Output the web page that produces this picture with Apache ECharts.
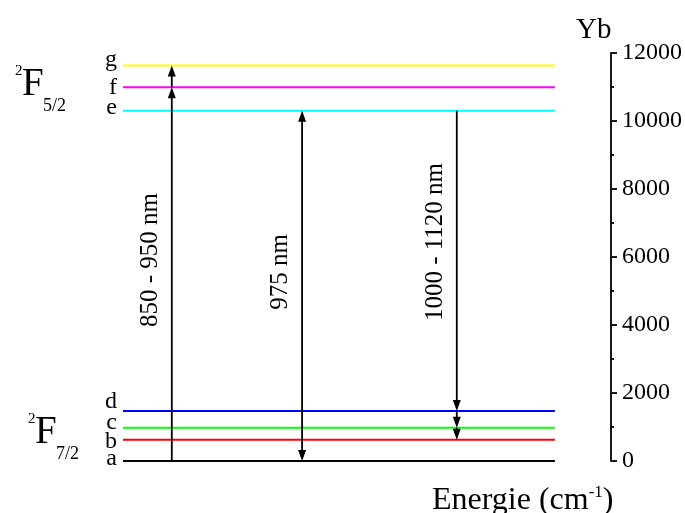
<!DOCTYPE html>
<html><head><meta charset="utf-8">
<script src="https://cdn.jsdelivr.net/npm/echarts@6/dist/echarts.min.js"></script>
<style>html,body{margin:0;padding:0;background:#fff}#c{width:685px;height:513px}</style>
</head><body><div id="c"></div>
<script>
// Energy levels of Yb (cm^-1)
const levelNames = ['a','b','c','d','e','f','g'];
const levelValues = [0, 626, 980, 1470, 10300, 10990, 11630];
const levelColors = ['#000000','#ff0000','#00ff00','#0000ff','#00ffff','#ff00ff','#ffff00'];
const levelLabelShift = [-2, 2, -5, -9, -3, 0, -6];
const levelXStart = 0, levelXEnd = 88.5;
// transitions: [arrow index, from level index, to level index, both ends arrow]
const arrowX = [10, 36.7, 68.4];
const transitionSegments = [
  [0, 0, 5, 0], [0, 5, 6, 0],
  [1, 0, 4, 1],
  [2, 4, 3, 0], [2, 3, 2, 0], [2, 2, 1, 0]
];
const arrowLabels = ['850 - 950 nm', '975 nm', '1000 - 1120 nm'];
const yTicks = [0, 2000, 4000, 6000, 8000, 10000, 12000];

const chart = echarts.init(document.getElementById('c'), null, {renderer: 'canvas'});
const FONT = 'Liberation Serif';

const series = levelNames.map((n, i) => ({
  type: 'line', name: n, silent: true, symbol: 'none', animation: false,
  lineStyle: {color: levelColors[i], width: 2},
  data: [[levelXStart, levelValues[i]], [levelXEnd, levelValues[i]]]
}));

series.push({
  type: 'scatter', silent: true, symbolSize: 0, animation: false,
  itemStyle: {opacity: 1},
  data: levelNames.map((n, i) => ({
    value: [levelXStart, levelValues[i]], name: n,
    label: {show: true, position: 'left', distance: 6, offset: [0, levelLabelShift[i]],
            formatter: n, color: '#000', fontFamily: FONT, fontSize: 24, opacity: 1}
  }))
});

function head(tip, dir) {
  // dir: +1 pointing down (increasing pixel y), -1 pointing up
  const L = 11, W = 4;
  return {type: 'polygon', shape: {points: [
    [tip[0], tip[1]], [tip[0] - W, tip[1] - dir * L], [tip[0] + W, tip[1] - dir * L]
  ]}, style: {fill: '#000'}};
}

series.push({
  type: 'custom', animation: false, silent: true, z: 5,
  data: transitionSegments.map(s => [arrowX[s[0]], levelValues[s[1]], levelValues[s[2]], s[3]]),
  renderItem: function (params, api) {
    const p1 = api.coord([api.value(0), api.value(1)]);
    const p2 = api.coord([api.value(0), api.value(2)]);
    const dir = p2[1] > p1[1] ? 1 : -1;
    const children = [
      {type: 'line', shape: {x1: p1[0], y1: p1[1], x2: p2[0], y2: p2[1] - dir * 4},
       style: {stroke: '#000', lineWidth: 1.8}},
      head(p2, dir)
    ];
    if (api.value(3)) {
      children[0].shape.y1 = p1[1] + dir * 4;
      children.push(head(p1, -dir));
    }
    return {type: 'group', children: children};
  }
});

function termText(x0, yc, sub) {
  return [
    {type: 'text', x: x0, y: yc - 14, style: {text: '2', fontFamily: FONT, fontSize: 15, fill: '#000', verticalAlign: 'middle'}},
    {type: 'text', x: x0 + 7, y: yc, style: {text: 'F', fontFamily: FONT, fontSize: 39, fill: '#000', verticalAlign: 'middle'}},
    {type: 'text', x: x0 + 28, y: yc + 21, style: {text: sub, fontFamily: FONT, fontSize: 18, fill: '#000', verticalAlign: 'middle'}}
  ];
}

chart.setOption({
  animation: false,
  backgroundColor: '#fff',
  grid: {left: 123, right: 74, top: 53, bottom: 52},
  xAxis: {type: 'value', min: 0, max: 100, show: false},
  yAxis: {
    type: 'value', position: 'right', min: 0, max: 12000, interval: 2000,
    splitLine: {show: false},
    axisLine: {show: true, onZero: false, lineStyle: {color: '#000', width: 1.8}},
    axisTick: {show: true, length: 6, lineStyle: {color: '#000', width: 1.8}},
    minorTick: {show: true, splitNumber: 2, length: 3, lineStyle: {color: '#000', width: 1.8}},
    axisLabel: {margin: 11, color: '#000', fontFamily: FONT, fontSize: 24,
                formatter: v => yTicks.includes(v) ? String(v) : ''}
  },
  series: series,
  graphic: [].concat(
    termText(15, 85, '5/2'),
    termText(28, 433, '7/2'),
    [
      {type: 'text', x: 576, y: 30, style: {text: 'Yb', fontFamily: FONT, fontSize: 29, fill: '#000', verticalAlign: 'middle'}},
      {type: 'text', x: 432, y: 501, style: {
        text: '{t|Energie (cm}{s|-1}{t|)}', fill: '#000', verticalAlign: 'middle',
        rich: {t: {fontSize: 32, fontFamily: FONT}, s: {fontSize: 17, fontFamily: FONT, padding: [0,0,16,0]}}}},
      {type: 'text', x: 150, y: 260, rotation: Math.PI/2, style: {
        text: arrowLabels[0], fontFamily: FONT, fontSize: 25, fill: '#000', align: 'center', verticalAlign: 'middle'}},
      {type: 'text', x: 280, y: 272, rotation: Math.PI/2, style: {
        text: arrowLabels[1], fontFamily: FONT, fontSize: 25, fill: '#000', align: 'center', verticalAlign: 'middle'}},
      {type: 'text', x: 435, y: 242, rotation: Math.PI/2, style: {
        text: arrowLabels[2], fontFamily: FONT, fontSize: 25, fill: '#000', align: 'center', verticalAlign: 'middle'}}
    ])
});
</script></body></html>
